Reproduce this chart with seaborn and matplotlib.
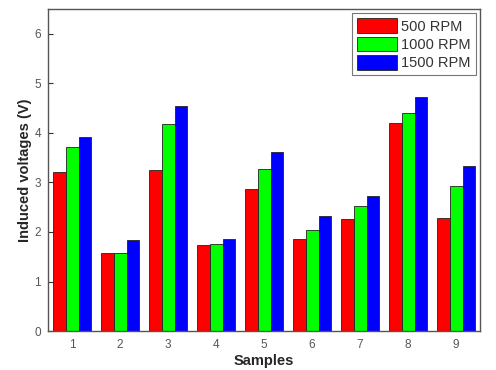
import matplotlib
matplotlib.use("Agg")
import matplotlib.pyplot as plt
import seaborn as sns
import pandas as pd

samples = ["1", "2", "3", "4", "5", "6", "7", "8", "9"]
rpm500 = [3.20, 1.57, 3.25, 1.74, 2.87, 1.85, 2.26, 4.20, 2.28]
rpm1000 = [3.72, 1.58, 4.18, 1.76, 3.27, 2.05, 2.53, 4.40, 2.92]
rpm1500 = [3.92, 1.83, 4.55, 1.85, 3.62, 2.32, 2.73, 4.73, 3.34]
series = ["500 RPM", "1000 RPM", "1500 RPM"]
colors = ["#FF0000", "#00FF00", "#0000FF"]

rows = []
for name, vals in zip(series, [rpm500, rpm1000, rpm1500]):
    for s, v in zip(samples, vals):
        rows.append({"Sample": s, "Series": name, "Value": v})
df = pd.DataFrame(rows)

sns.set_style("white")
plt.rcParams["font.family"] = ["Liberation Sans", "DejaVu Sans"]

fig = plt.figure(figsize=(4.96, 3.70), dpi=100)
ax = fig.add_axes([0.097, 0.105, 0.871, 0.871])
sns.barplot(data=df, x="Sample", y="Value", hue="Series", order=samples,
            hue_order=series, palette=colors, width=0.8, edgecolor="#222222",
            linewidth=0.6, saturation=1, ax=ax, errorbar=None)

ax.set_xlim(-0.5, 8.5)
ax.set_ylim(0, 6.5)
ax.set_yticks([0, 1, 2, 3, 4, 5, 6])
ax.tick_params(axis="both", direction="in", length=3.5, width=0.8,
               labelsize=8.5, colors="#333333", labelcolor="#555555",
               bottom=True, left=True)
ax.tick_params(axis="x", pad=6)
ax.tick_params(axis="y", pad=5)
ax.set_xlabel("Samples", fontsize=10.5, fontweight="bold", labelpad=2)
ax.set_ylabel("Induced voltages (V)", fontsize=10.5, fontweight="bold", labelpad=2)
for sp in ax.spines.values():
    sp.set_color("#555555")
    sp.set_linewidth(1.0)
    sp.set_visible(True)

leg = ax.legend(loc="upper right", fontsize=10.5, frameon=True, fancybox=False,
                edgecolor="#555555", handlelength=2.7, handleheight=1.15,
                handletextpad=0.3, borderpad=0.35, labelspacing=0.22,
                borderaxespad=0.3, title=None)
leg.get_frame().set_linewidth(0.8)
for t in leg.get_texts():
    t.set_color("#333333")

fig.savefig("out.png", dpi=100)
